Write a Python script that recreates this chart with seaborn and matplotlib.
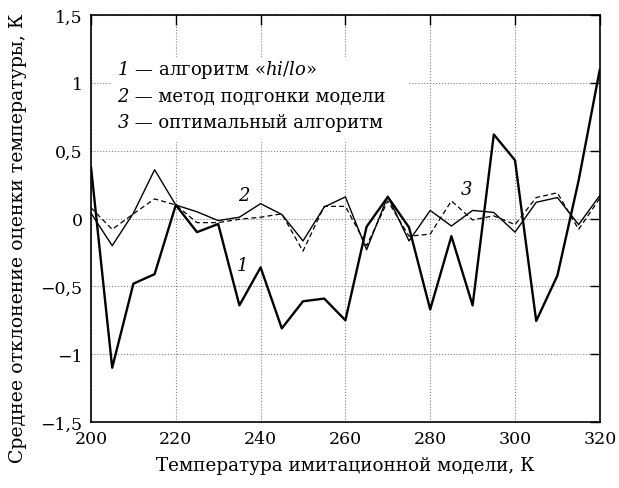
import matplotlib
matplotlib.use('Agg')
import matplotlib.pyplot as plt
import matplotlib.ticker as mticker
from matplotlib.patches import Rectangle
import seaborn as sns

# Temperature of simulation model, K
temps = [200, 205, 210, 215, 220, 225, 230, 235, 240, 245, 250, 255, 260,
         265, 270, 275, 280, 285, 290, 295, 300, 305, 310, 315, 320]

# 1 - hi/lo algorithm
hilo = [0.38, -1.10, -0.48, -0.41, 0.10, -0.10, -0.04, -0.64, -0.36, -0.81,
        -0.61, -0.59, -0.75, -0.06, 0.16, -0.065, -0.67, -0.13, -0.64, 0.62,
        0.43, -0.755, -0.42, 0.28, 1.10]
# 2 - model fitting method
fit = [0.04, -0.20, 0.04, 0.36, 0.10, 0.05, -0.015, 0.01, 0.11, 0.03,
       -0.165, 0.085, 0.16, -0.23, 0.165, -0.165, 0.06, -0.055, 0.06, 0.045,
       -0.10, 0.12, 0.155, -0.045, 0.17]
# 3 - optimal algorithm
optimal = [0.08, -0.08, 0.035, 0.145, 0.10, -0.03, -0.03, -0.005, 0.01, 0.035,
           -0.24, 0.09, 0.09, -0.20, 0.13, -0.13, -0.115, 0.13, -0.01, 0.02,
           -0.045, 0.155, 0.19, -0.08, 0.15]

legend_nums = ['1', '2', '3']
legend_texts = [' — алгоритм «$\\mathit{hi/lo}$»',
                ' — метод подгонки модели',
                ' — оптимальный алгоритм']

sns.set_theme(style='white')
plt.rcParams['font.family'] = ['DejaVu Serif']
plt.rcParams['text.color'] = 'black'
plt.rcParams['axes.labelcolor'] = 'black'
plt.rcParams['mathtext.fontset'] = 'custom'
plt.rcParams['mathtext.it'] = 'DejaVu Serif:italic'
plt.rcParams['mathtext.rm'] = 'DejaVu Serif'

fig = plt.figure(figsize=(6.19, 4.89), dpi=100)
ax = fig.add_axes([0.147, 0.135, 0.822, 0.832])

sns.lineplot(x=temps, y=hilo, ax=ax, color='black', linewidth=1.7)
sns.lineplot(x=temps, y=fit, ax=ax, color='black', linewidth=1.0)
sns.lineplot(x=temps, y=optimal, ax=ax, color='black', linewidth=0.9,
             linestyle=(0, (4, 2.5)))

ax.set_xlim(200, 320)
ax.set_ylim(-1.5, 1.5)
ax.set_xticks(range(200, 321, 20))
ax.set_yticks([-1.5, -1, -0.5, 0, 0.5, 1, 1.5])


def comma_fmt(v, pos):
    s = ('%g' % v).replace('.', ',')
    return s.replace('-', '−')


ax.yaxis.set_major_formatter(mticker.FuncFormatter(comma_fmt))
ax.tick_params(direction='in', length=7, width=1, top=True, right=True,
               labelsize=12.5, colors='black', pad=6)
for sp in ax.spines.values():
    sp.set_color('black')
    sp.set_linewidth(1.2)
ax.grid(True, color='0.5', linestyle=':', linewidth=0.8)

ax.set_xlabel('Температура имитационной модели, К', fontsize=13.2,
              color='black', labelpad=6)
ax.set_ylabel('Среднее отклонение оценки температуры, К', fontsize=13.6,
              color='black')
ax.yaxis.set_label_coords(-0.125, 0.455)

# curve numbers
ax.text(234.3, -0.38, '1', fontsize=13, style='italic', color='black')
ax.text(234.6, 0.14, '2', fontsize=13, style='italic', color='black')
ax.text(287.2, 0.18, '3', fontsize=13, style='italic', color='black')

# legend block: white box over the grid, italic curve numbers
ax.add_patch(Rectangle((0.041, 0.688), 0.582, 0.209, transform=ax.transAxes,
                       facecolor='white', edgecolor='none', zorder=2.5))
row_y = [0.867, 0.802, 0.737]
for num, txt, yy in zip(legend_nums, legend_texts, row_y):
    t = ax.text(0.052, yy, num, transform=ax.transAxes, fontsize=13,
                style='italic', va='center', zorder=3, color='black')
    ax.annotate(txt, xy=(1, 0.5), xycoords=t, va='center', ha='left',
                fontsize=13, zorder=3, color='black')

fig.savefig('out.png', dpi=100)
